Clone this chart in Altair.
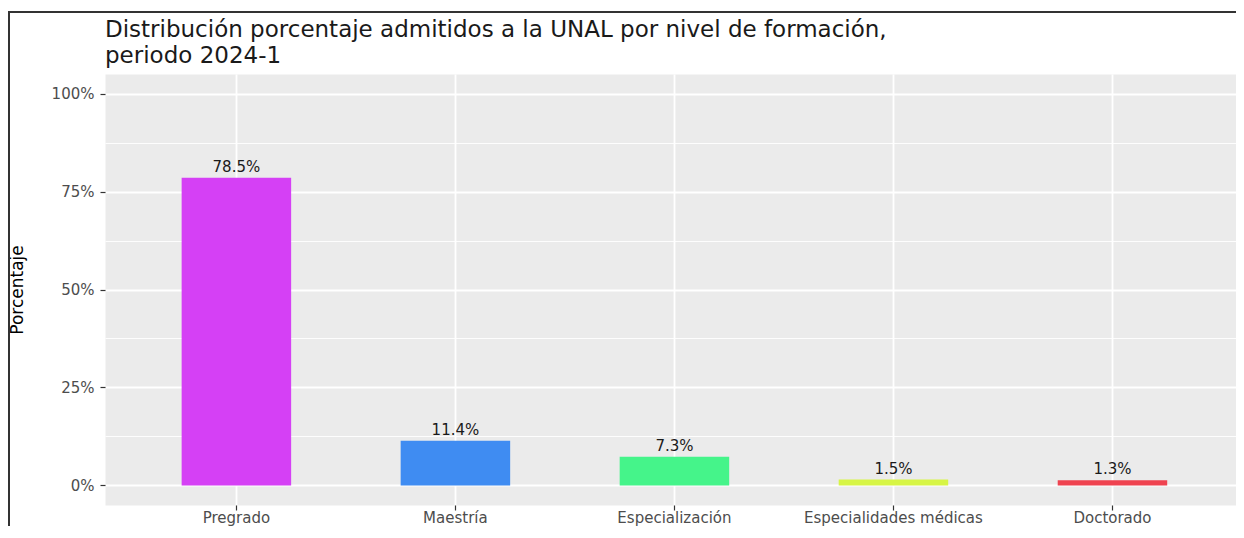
import altair as alt
import pandas as pd

# ---- data ----
categories = ["Pregrado", "Maestría", "Especialización", "Especialidades médicas", "Doctorado"]
values = [78.5, 11.4, 7.3, 1.5, 1.3]
colors = ["#D540F5", "#3F8CF2", "#45F48A", "#D7F545", "#EF4350"]
y_ticks = [0, 12.5, 25, 37.5, 50, 62.5, 75, 87.5, 100]
title_lines = ["Distribución porcentaje admitidos a la UNAL por nivel de formación,", "periodo 2024-1"]
y_title = "Porcentaje"

df = pd.DataFrame({"nivel": categories, "pct": values})

FONT = "DejaVu Sans"
W, H = 1131, 431
MAJOR = "datum.value % 25 === 0"

base = alt.Chart(df).transform_calculate(
    label="format(datum.pct, '.1f') + '%'"
).encode(
    x=alt.X(
        "nivel:N", sort=categories, title=None,
        scale=alt.Scale(paddingInner=0.5, paddingOuter=0.332, align=0.527),
        axis=alt.Axis(
            labelAngle=0, bandPosition=0.5, grid=True, gridColor="white", gridWidth=1.8,
            domain=False, tickSize=5, tickColor="#333333", tickWidth=1.2,
            labelFont=FONT, labelFontSize=15, labelColor="#4D4D4D",
            labelBaseline="alphabetic", labelPadding=12,
        ),
    ),
    y=alt.Y(
        "pct:Q", title=y_title,
        scale=alt.Scale(domain=[-5, 105], nice=False),
        axis=alt.Axis(
            values=y_ticks,
            labelExpr=MAJOR + " ? datum.value + '%' : ''",
            grid=True, gridColor="white",
            gridWidth={"condition": {"test": MAJOR, "value": 1.8}, "value": 0.9},
            tickOpacity={"condition": {"test": MAJOR, "value": 1}, "value": 0},
            domain=False, tickSize=5, tickColor="#333333", tickWidth=1.2,
            labelFont=FONT, labelFontSize=15, labelColor="#4D4D4D", labelPadding=6,
            titleFont=FONT, titleFontSize=17, titleColor="black", titleFontWeight="normal",
            titleAngle=-90, titleX=-79, titleY=H / 2, titleBaseline="bottom", titleAlign="center",
        ),
    ),
)

bars = base.mark_bar().encode(
    color=alt.Color("nivel:N", scale=alt.Scale(domain=categories, range=colors), legend=None)
)

labels = base.mark_text(
    baseline="alphabetic", dy=-6, font=FONT, fontSize=15, color="#1A1A1A"
).encode(text="label:N")

border_data = alt.Data(values=[{"k": 0}])
left_border = alt.Chart(border_data).mark_rule(color="#333333", strokeWidth=2).encode(
    x=alt.value(-96), y=alt.value(-62), y2=alt.value(H + 40)
)
top_border = alt.Chart(border_data).mark_rule(color="#333333", strokeWidth=2).encode(
    x=alt.value(-97), x2=alt.value(W + 20), y=alt.value(-62)
)

chart = alt.layer(bars, labels, left_border, top_border).properties(
    width=W,
    height=H,
    autosize=alt.AutoSizeParams(type="none"),
    padding={"left": 97, "top": 66, "right": 0, "bottom": 21},
    title=alt.TitleParams(
        text=title_lines, anchor="start", frame="group", font=FONT, fontSize=23,
        fontWeight="normal", color="#1A1A1A", baseline="alphabetic", offset=0, dy=75,
        lineHeight=26,
    ),
).configure_view(fill="#EBEBEB", stroke="transparent")

chart.save("out.html", embed_options={"renderer": "svg", "actions": False})
